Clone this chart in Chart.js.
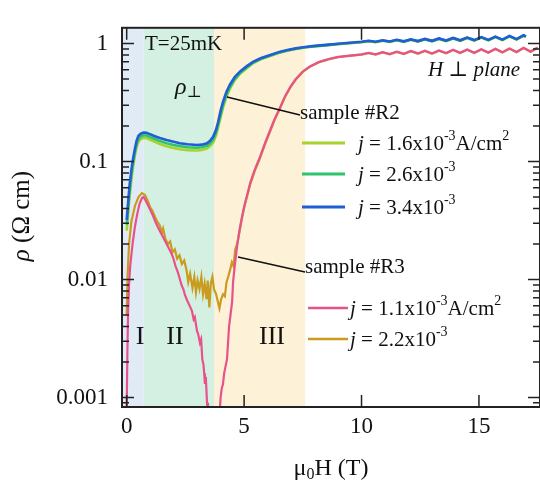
<!DOCTYPE html>
<html>
<head>
<meta charset="utf-8">
<script src="https://cdn.jsdelivr.net/npm/chart.js@4.4.1/dist/chart.umd.min.js"></script>
<style>
  html, body { margin: 0; padding: 0; background: #fff; }
  canvas { display: block; }
</style>
</head>
<body>
<canvas id="chart" width="540" height="487"></canvas>
<script>
// Field axis (T) and resistivity (Ohm cm)

// sample #R2 - the three curves share one field grid
const fieldR2 = [0.0, 0.04, 0.08, 0.13, 0.2, 0.27, 0.34, 0.42, 0.5, 0.6,
  0.72, 0.85, 1.0, 1.2, 1.41, 1.7, 2.0, 2.26, 2.6, 2.99,
  3.2, 3.42, 3.55, 3.68, 3.8, 3.89, 4.0, 4.1, 4.25, 4.4,
  4.6, 4.83, 5.1, 5.38, 5.7, 6.11, 6.5, 6.84, 7.2, 7.6,
  8.0, 8.5, 9.0, 9.5, 10.0, 10.3, 10.6, 10.9, 11.2, 11.5,
  11.8, 12.1, 12.4, 12.7, 13.0, 13.3, 13.6, 13.9, 14.2, 14.5,
  14.8, 15.1, 15.4, 15.7, 16.0, 16.3, 16.6, 16.9, 17.0];

const rhoR2_j16 = [0.026, 0.032, 0.04, 0.052, 0.07, 0.09, 0.11, 0.132, 0.147, 0.155,
  0.159, 0.158, 0.153, 0.147, 0.141, 0.135, 0.13, 0.127, 0.125, 0.124,
  0.125, 0.129, 0.135, 0.145, 0.165, 0.193, 0.237, 0.285, 0.355, 0.415,
  0.49, 0.555, 0.615, 0.68, 0.735, 0.785, 0.835, 0.87, 0.9, 0.925,
  0.945, 0.965, 0.985, 1.005, 1.025, 1.045, 1.025, 1.055, 1.03, 1.065,
  1.035, 1.075, 1.04, 1.085, 1.045, 1.095, 1.05, 1.105, 1.055, 1.115,
  1.06, 1.125, 1.065, 1.135, 1.07, 1.15, 1.08, 1.165, 1.14];

const rhoR2_j26 = [0.029, 0.036, 0.045, 0.058, 0.077, 0.097, 0.117, 0.14, 0.155, 0.163,
  0.167, 0.166, 0.161, 0.155, 0.149, 0.143, 0.138, 0.135, 0.132, 0.131,
  0.132, 0.136, 0.142, 0.153, 0.174, 0.203, 0.25, 0.30, 0.37, 0.43,
  0.50, 0.565, 0.625, 0.69, 0.74, 0.79, 0.84, 0.875, 0.905, 0.93,
  0.95, 0.97, 0.99, 1.01, 1.03, 1.05, 1.03, 1.06, 1.035, 1.07,
  1.04, 1.08, 1.045, 1.09, 1.05, 1.10, 1.055, 1.11, 1.06, 1.12,
  1.065, 1.13, 1.07, 1.14, 1.075, 1.155, 1.085, 1.17, 1.145];

const rhoR2_j34 = [0.032, 0.04, 0.05, 0.065, 0.085, 0.105, 0.125, 0.15, 0.165, 0.172,
  0.176, 0.175, 0.17, 0.164, 0.158, 0.152, 0.147, 0.143, 0.14, 0.138,
  0.139, 0.143, 0.15, 0.162, 0.185, 0.215, 0.27, 0.32, 0.39, 0.45,
  0.52, 0.58, 0.64, 0.70, 0.75, 0.80, 0.85, 0.88, 0.91, 0.935,
  0.955, 0.975, 0.995, 1.015, 1.035, 1.055, 1.035, 1.065, 1.04, 1.075,
  1.045, 1.085, 1.05, 1.095, 1.055, 1.105, 1.06, 1.115, 1.065, 1.125,
  1.07, 1.135, 1.075, 1.145, 1.08, 1.16, 1.09, 1.175, 1.15];

// sample #R3, j = 1.1e-3 (drops below the axis between the two branches)
const fieldR3_j11 = [0.0, 0.03, 0.06, 0.1, 0.15, 0.25, 0.35, 0.45, 0.55, 0.65,
  0.72, 0.85, 1.0, 1.11, 1.25, 1.4, 1.54, 1.7, 1.85, 1.97,
  2.08, 2.18, 2.28, 2.35, 2.42, 2.48, 2.58, 2.68, 2.78, 2.85,
  2.9, 2.99, 3.05, 3.12, 3.17, 3.22, 3.27, 3.3, 3.33, 3.37,
  3.42, 3.46, 3.7, 3.95, 4.0, 4.05, 4.1, 4.15, 4.2, 4.27,
  4.32, 4.36, 4.42, 4.49, 4.53, 4.6, 4.7, 4.8, 4.91, 5.02,
  5.13, 5.26, 5.45, 5.68, 5.9, 6.11, 6.3, 6.54, 6.75, 6.97,
  7.2, 7.5, 7.8, 8.2, 8.6, 9.0, 9.5, 10.0, 10.3, 10.6,
  10.9, 11.2, 11.5, 11.8, 12.1, 12.4, 12.7, 13.0, 13.3, 13.6,
  13.9, 14.2, 14.5, 14.8, 15.1, 15.4, 15.7, 16.0, 16.3, 16.6,
  16.9, 17.2, 17.5];

const rhoR3_j11 = [0.0008, 0.0025, 0.0055, 0.009, 0.013, 0.02, 0.028, 0.036, 0.044, 0.049,
  0.05, 0.045, 0.039, 0.035, 0.03, 0.026, 0.023, 0.02, 0.0175, 0.0155,
  0.013, 0.0115, 0.0098, 0.0088, 0.0082, 0.0074, 0.0066, 0.006, 0.0054, 0.0046,
  0.0048, 0.0037, 0.0034, 0.0029, 0.0031, 0.0021, 0.0019, 0.0016, 0.0013, 0.0015,
  0.0009, 0.0007, null, 0.0007, 0.001, 0.0012, 0.0013, 0.0016, 0.0018, 0.0021,
  0.003, 0.004, 0.005, 0.0065, 0.0095, 0.013, 0.019, 0.026, 0.034, 0.043,
  0.052, 0.066, 0.085, 0.11, 0.145, 0.185, 0.23, 0.29, 0.36, 0.43,
  0.5, 0.58, 0.64, 0.7, 0.74, 0.77, 0.79, 0.81, 0.835, 0.81,
  0.845, 0.815, 0.855, 0.82, 0.865, 0.825, 0.87, 0.825, 0.875, 0.83,
  0.885, 0.835, 0.89, 0.835, 0.895, 0.84, 0.905, 0.845, 0.91, 0.85,
  0.92, 0.855, 0.925];

// sample #R3, j = 2.2e-3
const fieldR3_j22 = [0.0, 0.04, 0.1, 0.2, 0.35, 0.5, 0.65, 0.78, 0.9, 1.0,
  1.1, 1.2, 1.3, 1.4, 1.5, 1.55, 1.65, 1.75, 1.85, 1.95,
  2.05, 2.15, 2.25, 2.35, 2.45, 2.55, 2.62, 2.7, 2.8, 2.88,
  2.95, 3.02, 3.1, 3.18, 3.25, 3.32, 3.4, 3.45, 3.52, 3.58,
  3.65, 3.72, 3.8, 3.88, 3.95, 4.02, 4.1, 4.18, 4.25, 4.32,
  4.4, 4.48, 4.55, 4.62, 4.7, 4.8, 4.91, 5.02, 5.13, 5.26,
  5.45, 5.68, 5.9, 6.11, 6.3, 6.54, 6.75, 6.97, 7.2, 7.5,
  7.8, 8.2, 8.6, 9.0, 9.5, 10.0, 10.3, 10.6, 10.9, 11.2,
  11.5, 11.8, 12.1, 12.4, 12.7, 13.0, 13.3, 13.6, 13.9, 14.2,
  14.5, 14.8, 15.1, 15.4, 15.7, 16.0, 16.3, 16.6, 16.9, 17.2,
  17.5];

const rhoR3_j22 = [0.005, 0.011, 0.02, 0.031, 0.042, 0.05, 0.054, 0.052, 0.046, 0.041,
  0.038, 0.034, 0.031, 0.029, 0.025, 0.027, 0.022, 0.02, 0.021, 0.017,
  0.018, 0.015, 0.016, 0.0135, 0.0145, 0.012, 0.0095, 0.0112, 0.0085, 0.0105,
  0.0078, 0.0098, 0.0083, 0.0105, 0.0075, 0.0092, 0.0068, 0.0098, 0.0058, 0.0092,
  0.0105, 0.0082, 0.0076, 0.0065, 0.0057, 0.0068, 0.0075, 0.0072, 0.0095, 0.0105,
  0.012, 0.014, 0.013, 0.018, 0.02, 0.025, 0.033, 0.042, 0.051, 0.064,
  0.083, 0.107, 0.142, 0.18, 0.225, 0.285, 0.355, 0.425, 0.495, 0.575,
  0.635, 0.695, 0.735, 0.765, 0.785, 0.805, 0.83, 0.805, 0.84, 0.81,
  0.85, 0.815, 0.86, 0.82, 0.865, 0.82, 0.87, 0.825, 0.88, 0.83,
  0.885, 0.83, 0.89, 0.835, 0.9, 0.84, 0.905, 0.845, 0.915, 0.85,
  0.92];

// axes
const xTickValues = [0, 5, 10, 15];
const yTickValues = [0.001, 0.01, 0.1, 1];
const yTickLabels = ['0.001', '0.01', '0.1', '1'];

// regions I / II / III (field boundaries)
const regionEdges = [-0.2, 0.73, 3.72, 7.6];
const regionNames = ['I', 'II', 'III'];
const regionColors = ['#e0ebf6', '#d4f0e2', '#fdf1d8'];

const SERIF = '"Liberation Serif", "DejaVu Serif", serif';
const COLORS = {
  j16: '#a8d22c',
  j26: '#2fc46c',
  j34: '#1f5ed3',
  j11: '#e8528a',
  j22: '#c99b1e'
};

const toPoints = (xs, ys) => xs.map((x, i) => ({ x: x, y: ys[i] }));

function line(label, xs, ys, color, width) {
  return {
    label: label,
    data: toPoints(xs, ys),
    borderColor: color,
    backgroundColor: color,
    borderWidth: width,
    pointRadius: 0,
    tension: 0,
    spanGaps: false
  };
}

// draws a run of text pieces (italic / superscript / subscript) one after the other
function richWidth(ctx, parts) {
  let w = 0;
  parts.forEach(p => {
    ctx.font = (p.italic ? 'italic ' : '') + p.size + 'px ' + SERIF;
    w += ctx.measureText(p.t).width;
  });
  return w;
}

function drawRich(ctx, parts, x, y) {
  let cx = x;
  parts.forEach(p => {
    ctx.font = (p.italic ? 'italic ' : '') + p.size + 'px ' + SERIF;
    ctx.fillText(p.t, cx, y + (p.dy || 0));
    cx += ctx.measureText(p.t).width;
  });
  return cx;
}

function jLabel(val, withUnit) {
  const parts = [
    { t: 'j', size: 21, italic: true },
    { t: ' = ' + val + 'x10', size: 21 },
    { t: '-3', size: 14, dy: -8 }
  ];
  if (withUnit) {
    parts.push({ t: 'A/cm', size: 21 });
    parts.push({ t: '2', size: 14, dy: -8 });
  }
  return parts;
}

const decorPlugin = {
  id: 'decor',
  beforeDatasetsDraw(chart) {
    const { ctx, chartArea: a, scales: { x } } = chart;
    ctx.save();
    for (let i = 0; i < regionColors.length; i++) {
      const x0 = x.getPixelForValue(regionEdges[i]);
      const x1 = x.getPixelForValue(regionEdges[i + 1]);
      ctx.fillStyle = regionColors[i];
      ctx.fillRect(x0, a.top, x1 - x0, a.bottom - a.top);
    }
    ctx.restore();
  },
  afterDatasetsDraw(chart) {
    const { ctx, chartArea: a, scales: { x, y } } = chart;
    ctx.save();

    // frame
    ctx.strokeStyle = '#222';
    ctx.lineWidth = 2;
    ctx.strokeRect(a.left, a.top, a.right - a.left, a.bottom - a.top);

    // ticks (pointing inwards, on all four sides)
    ctx.lineWidth = 1.5;
    ctx.beginPath();
    xTickValues.forEach(v => {
      const px = x.getPixelForValue(v);
      ctx.moveTo(px, a.bottom); ctx.lineTo(px, a.bottom - 12);
      ctx.moveTo(px, a.top); ctx.lineTo(px, a.top + 12);
    });
    for (let e = -4; e <= 0; e++) {
      for (let k = 1; k <= 9; k++) {
        const v = k * Math.pow(10, e);
        if (v < y.min || v > y.max) continue;
        const py = y.getPixelForValue(v);
        const len = k === 1 ? 12 : 7;
        ctx.moveTo(a.left, py); ctx.lineTo(a.left + len, py);
        ctx.moveTo(a.right, py); ctx.lineTo(a.right - len, py);
      }
    }
    ctx.stroke();

    ctx.fillStyle = '#111';
    ctx.textBaseline = 'middle';
    ctx.textAlign = 'left';

    // annotations
    drawRich(ctx, [{ t: 'T=25mK', size: 21 }], 145, 44);
    drawRich(ctx, [{ t: 'ρ', size: 24, italic: true }, { t: '⊥', size: 16, dy: 5 }], 175, 88);
    drawRich(ctx, [{ t: 'H', size: 21, italic: true }, { t: ' ⊥ ', size: 21 }, { t: 'plane', size: 21, italic: true }], 428, 70);

    const ry = 337;
    ctx.textAlign = 'center';
    for (let i = 0; i < regionNames.length; i++) {
      const cx = [140, 175, 272][i];
      ctx.font = '26px ' + SERIF;
      ctx.fillText(regionNames[i], cx, ry);
    }
    ctx.textAlign = 'left';

    // callouts
    ctx.strokeStyle = '#111';
    ctx.lineWidth = 1.5;
    ctx.beginPath();
    ctx.moveTo(227, 97); ctx.lineTo(300, 115);
    ctx.moveTo(238, 257); ctx.lineTo(305, 272);
    ctx.stroke();
    drawRich(ctx, [{ t: 'sample #R2', size: 21 }], 300, 113);
    drawRich(ctx, [{ t: 'sample #R3', size: 21 }], 305, 267);

    // legends
    const legR2 = [['1.6', COLORS.j16, true], ['2.6', COLORS.j26, false], ['3.4', COLORS.j34, false]];
    const legR2y = [143, 174, 207];
    legR2.forEach((l, i) => {
      ctx.strokeStyle = l[1];
      ctx.lineWidth = 3;
      ctx.beginPath();
      ctx.moveTo(302, legR2y[i]); ctx.lineTo(345, legR2y[i]);
      ctx.stroke();
      drawRich(ctx, jLabel(l[0], l[2]), 358, legR2y[i] + 1);
    });
    const legR3 = [['1.1', COLORS.j11, true], ['2.2', COLORS.j22, false]];
    const legR3y = [308, 339];
    legR3.forEach((l, i) => {
      ctx.strokeStyle = l[1];
      ctx.lineWidth = 2.5;
      ctx.beginPath();
      ctx.moveTo(308, legR3y[i]); ctx.lineTo(348, legR3y[i]);
      ctx.stroke();
      drawRich(ctx, jLabel(l[0], l[2]), 350, legR3y[i] + 1);
    });

    // axis titles
    const xt = [{ t: 'μ', size: 24 }, { t: '0', size: 16, dy: 6 }, { t: 'H (T)', size: 24 }];
    drawRich(ctx, xt, 331 - richWidth(ctx, xt) / 2, 469);

    const yt = [{ t: 'ρ', size: 25, italic: true }, { t: ' (Ω cm)', size: 25 }];
    ctx.translate(22, 216);
    ctx.rotate(-Math.PI / 2);
    drawRich(ctx, yt, -richWidth(ctx, yt) / 2, 0);

    ctx.restore();
  }
};

const ctx = document.getElementById('chart');
new Chart(ctx, {
  type: 'line',
  data: {
    datasets: [
      line('j = 3.4x10^-3', fieldR2, rhoR2_j34, COLORS.j34, 2.6),
      line('j = 2.6x10^-3', fieldR2, rhoR2_j26, COLORS.j26, 2.6),
      line('j = 1.6x10^-3', fieldR2, rhoR2_j16, COLORS.j16, 2.6),
      line('j = 1.1x10^-3', fieldR3_j11, rhoR3_j11, COLORS.j11, 2.2),
      line('j = 2.2x10^-3', fieldR3_j22, rhoR3_j22, COLORS.j22, 2.2)
    ]
  },
  options: {
    responsive: false,
    animation: false,
    layout: { padding: { top: 13, right: 0, left: 0, bottom: 0 } },
    plugins: {
      legend: { display: false },
      tooltip: { enabled: false }
    },
    scales: {
      x: {
        type: 'linear',
        min: -0.2,
        max: 17.6,
        border: { display: false },
        grid: { display: false, drawTicks: false },
        ticks: {
          stepSize: 5,
          includeBounds: false,
          padding: 6,
          color: '#111',
          font: { family: SERIF, size: 23 },
          maxRotation: 0,
          callback: v => (xTickValues.includes(v) ? String(v) : '')
        },
        afterFit: s => { s.height = 80; }
      },
      y: {
        type: 'logarithmic',
        min: 0.00083,
        max: 1.36,
        border: { display: false },
        grid: { display: false, drawTicks: false },
        ticks: {
          autoSkip: false,
          padding: 14,
          color: '#111',
          font: { family: SERIF, size: 23 },
          callback: v => {
            const i = yTickValues.findIndex(t => Math.abs(t - v) / t < 1e-6);
            return i >= 0 ? yTickLabels[i] : '';
          }
        },
        afterFit: s => { s.width = 122; }
      }
    }
  },
  plugins: [decorPlugin]
});
</script>
</body>
</html>
